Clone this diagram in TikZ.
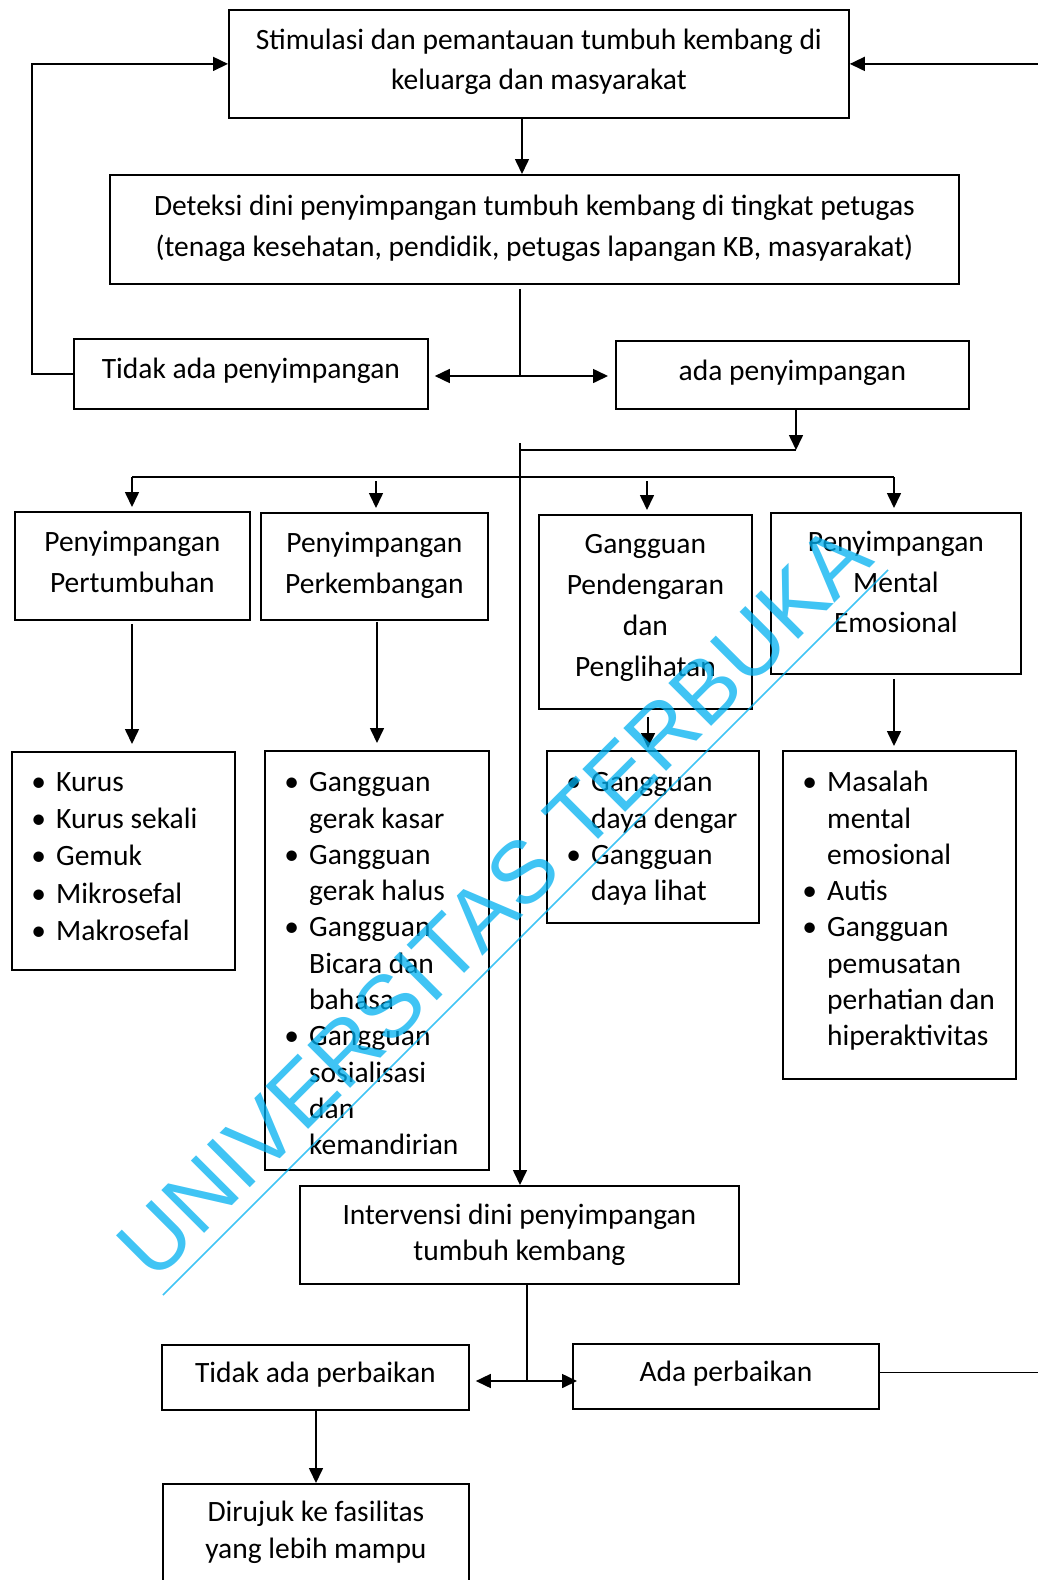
\documentclass[tikz,border=0pt]{standalone}
\usepackage{fontspec}
\setmainfont{Carlito}
\newfontfamily\wmfont{Liberation Sans}
\usetikzlibrary{arrows.meta,calc}
\definecolor{wmblue}{HTML}{00B0F0}
\tikzset{
  box/.style={draw, line width=1.8pt, rectangle, inner sep=0pt, anchor=north west},
  txt/.style={font=\fontsize{29.5}{40}\selectfont, align=center, inner sep=0pt, anchor=base},
  lst/.style={font=\fontsize{29.5}{36.3}\selectfont, align=left, inner sep=0pt, anchor=base west},
  ln/.style={line width=1.6pt},
  arr/.style={ln, -{Triangle[length=15pt,width=14pt]}},
}
\newcommand\bi[1]{\makebox[35pt][c]{•}#1}
\newcommand\ci[1]{\hspace*{35pt}#1}
\begin{document}
\begin{tikzpicture}[x=1pt,y=-1pt]
\useasboundingbox (0,0) rectangle (1038,1580);
\clip (0,0) rectangle (1038,1580);

% boxes
\node[box, minimum width=620pt, minimum height=108pt] (top1) at (228,9) {};
\node[box, minimum width=849pt, minimum height=109pt] (det) at (109,174) {};
\node[box, minimum width=354pt, minimum height=70pt] (tidak) at (73,338) {};
\node[box, minimum width=353pt, minimum height=68pt] (ada) at (615,340) {};
\node[box, minimum width=235pt, minimum height=108pt] (b1) at (14,511) {};
\node[box, minimum width=227pt, minimum height=107pt] (b2) at (260,512) {};
\node[box, minimum width=213pt, minimum height=194pt] (b3) at (538,514) {};
\node[box, minimum width=250pt, minimum height=161pt] (b4) at (770,512) {};
\node[box, minimum width=223pt, minimum height=218pt] (l1) at (11,751) {};
\node[box, minimum width=224pt, minimum height=419pt] (l2) at (264,750) {};
\node[box, minimum width=212pt, minimum height=172pt] (l3) at (546,750) {};
\node[box, minimum width=233pt, minimum height=328pt] (l4) at (782,750) {};
\node[box, minimum width=439pt, minimum height=98pt] (intv) at (299,1185) {};
\node[box, minimum width=307pt, minimum height=65pt] (tperb) at (161,1344) {};
\node[box, minimum width=306pt, minimum height=65pt] (aperb) at (572,1343) {};
\node[box, minimum width=306pt, minimum height=150pt] (rujuk) at (162,1483) {};

% texts (anchor base = baseline of the last line)
\node[txt] (top1t) at ($(top1.north)+(0,80)$) {Stimulasi dan pemantauan tumbuh kembang di\\keluarga dan masyarakat};
\node[txt, font=\fontsize{29.5}{40.5}\selectfont] (dett) at ($(det.north)+(0,82)$) {Deteksi dini penyimpangan tumbuh kembang di tingkat petugas\\(tenaga kesehatan, pendidik, petugas lapangan KB, masyarakat)};
\node[txt] (tidakt) at ($(tidak.north)+(0,40.4)$) {Tidak ada penyimpangan};
\node[txt] (adat) at ($(ada.north)+(0,40)$) {ada penyimpangan};
\node[txt, font=\fontsize{29.5}{41}\selectfont] (b1t) at ($(b1.north)+(0,81)$) {Penyimpangan\\Pertumbuhan};
\node[txt, font=\fontsize{29.5}{41}\selectfont] (b2t) at ($(b2.north)+(0,81)$) {Penyimpangan\\Perkembangan};
\node[txt, font=\fontsize{29.5}{41}\selectfont] (b3t) at ($(b3.north)+(0,162)$) {Gangguan\\Pendengaran\\dan\\Penglihatan};
\node[txt, font=\fontsize{29.5}{40.5}\selectfont] (b4t) at ($(b4.north)+(0,120.7)$) {Penyimpangan\\Mental\\Emosional};
\node[lst, font=\fontsize{29.5}{37.1}\selectfont] (l1t) at (21,940.1) {\bi{Kurus}\\\bi{Kurus sekali}\\\bi{Gemuk}\\\bi{Mikrosefal}\\\bi{Makrosefal}};
\node[lst] (l2t) at (274,1154.7) {\bi{Gangguan}\\\ci{gerak kasar}\\\bi{Gangguan}\\\ci{gerak halus}\\\bi{Gangguan}\\\ci{Bicara dan}\\\ci{bahasa}\\\bi{Gangguan}\\\ci{sosialisasi}\\\ci{dan}\\\ci{kemandirian}};
\node[lst] (l3t) at (556,900.6) {\bi{Gangguan}\\\ci{daya dengar}\\\bi{Gangguan}\\\ci{daya lihat}};
\node[lst] (l4t) at (792,1045.8) {\bi{Masalah}\\\ci{mental}\\\ci{emosional}\\\bi{Autis}\\\bi{Gangguan}\\\ci{pemusatan}\\\ci{perhatian dan}\\\ci{hiperaktivitas}};
\node[txt, font=\fontsize{29.5}{36}\selectfont] (intvt) at ($(intv.north)+(0,75)$) {Intervensi dini penyimpangan\\tumbuh kembang};
\node[txt] (tperbt) at ($(tperb.north)+(0,38.7)$) {Tidak ada perbaikan};
\node[txt] (aperbt) at ($(aperb.north)+(0,38.7)$) {Ada perbaikan};
\node[txt, font=\fontsize{29.5}{36.5}\selectfont] (rujukt) at ($(rujuk.north)+(0,75.2)$) {Dirujuk ke fasilitas\\yang lebih mampu};

% junction coordinates
\coordinate (cA) at (522,0);
\coordinate (lx) at (32,0);
\coordinate (j1) at (520,376);
\coordinate (j2) at (796,450);
\coordinate (j3) at (520,450);
\coordinate (m0) at (520,443);
\coordinate (dL) at (132,477);
\coordinate (dR) at (894,477);
\coordinate (d2) at (376,481);
\coordinate (d3) at (647,481);
\coordinate (cE) at (377,0);
\coordinate (cF) at (648,0);
\coordinate (j4) at (527,1381);
\coordinate (cI) at (316,0);

% connectors
\draw[arr] (top1.south -| cA) -- (det.north -| cA);
\draw[ln] ($(det.south -| j1)+(0,4)$) -- (j1);
\draw[arr, shorten >=6pt] (j1) -- (j1 -| tidak.east);
\draw[arr, shorten >=7pt] (j1) -- (j1 -| ada.west);
\draw[arr] (tidak.west) -- (tidak.west -| lx) |- (top1.west);
\draw[arr] ($(aperb.east)+(0,-4)$) -- ++(200,0) |- (top1.east);
\draw[arr] (ada.south -| j2) -- (j2);
\draw[ln] (j2) -- (j3);
\draw[arr] (m0) -- (m0 |- intv.north);
\draw[ln] (dL) -- (dR);
\draw[arr, shorten >=4pt] (dL) -- (dL |- b1.north);
\draw[arr, shorten >=4pt] (dR) -- (dR |- b4.north);
\draw[arr, shorten >=4pt] (d2) -- (d2 |- b2.north);
\draw[arr, shorten >=4pt] (d3) -- (d3 |- b3.north);
\draw[arr, shorten >=7pt] ($(b1.south -| dL)+(0,3)$) -- (l1.north -| dL);
\draw[arr, shorten >=7pt] ($(b2.south -| cE)+(0,1)$) -- (l2.north -| cE);
\draw[arr, shorten >=2pt] ($(b3.south -| cF)+(0,7)$) -- (l3.north -| cF);
\draw[arr, shorten >=4pt] ($(b4.south -| dR)+(0,4)$) -- (l4.north -| dR);
\draw[ln] (intv.south -| j4) -- (j4);
\draw[arr, shorten >=6pt] (j4) -- (j4 -| tperb.east);
\draw[arr, shorten >=-5pt] (j4) -- (j4 -| aperb.west);
\draw[arr] (tperb.south -| cI) -- (rujuk.north -| cI);

% watermark
\coordinate (wa) at (163,1295);
\coordinate (wb) at (888,570);
\node[font=\wmfont\fontsize{88}{88}\selectfont, text=wmblue, text opacity=0.75, rotate=45, anchor=base, inner sep=0pt] (wmk) at (515.6,922.6) {UNIVERSITAS TERBUKA};
\draw[wmblue, draw opacity=0.75, line width=1.6pt] (wa) -- (wb);
\end{tikzpicture}
\end{document}
